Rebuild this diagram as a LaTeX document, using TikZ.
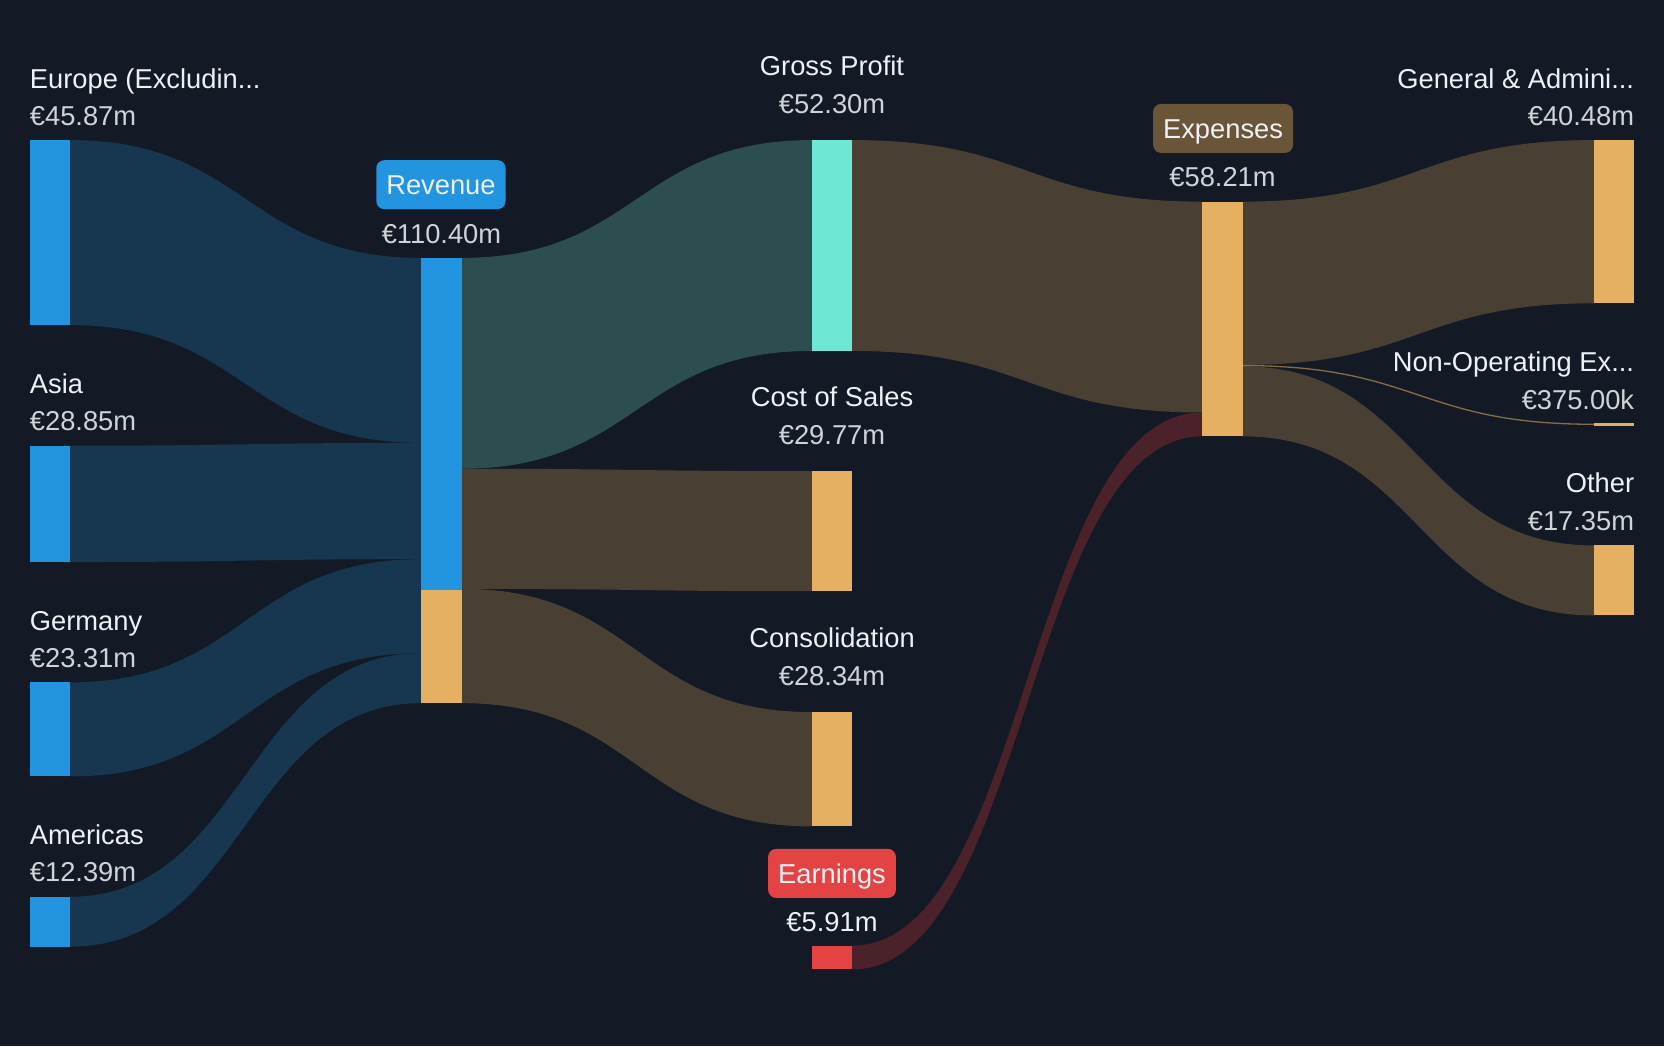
\documentclass[tikz,border=0pt]{standalone}
\usepackage{fontspec}
\setmainfont{Liberation Sans}
\usetikzlibrary{fit,calc}
\definecolor{bg}{HTML}{141A25}
\definecolor{bluebar}{HTML}{2394DF}
\definecolor{blueflow}{HTML}{173750}
\definecolor{tealbar}{HTML}{6EE8D5}
\definecolor{tealflow}{HTML}{2C4E51}
\definecolor{orangebar}{HTML}{E5B062}
\definecolor{brownflow}{HTML}{4A3F33}
\definecolor{redbar}{HTML}{E34343}
\definecolor{redflow}{HTML}{4B2229}
\definecolor{expbox}{HTML}{6B5538}
\definecolor{nametxt}{HTML}{EEF1F6}
\definecolor{valtxt}{HTML}{D0D3D8}
\tikzset{
  barnode/.style={inner sep=0pt, outer sep=0pt},
  txt/.style={inner sep=0pt, font=\fontsize{27.3}{31}\selectfont},
  nm/.style={txt, text=nametxt},
  val/.style={txt, text=valtxt},
  tagbox/.style={txt, text=nametxt, rounded corners=8pt, inner xsep=10pt,
    minimum height=49pt, text height=19.5pt, text depth=0pt},
}
\newcommand\flowband[7]{%
  \coordinate (fA) at (#1.east |- 0,#2);
  \coordinate (fB) at (#1.east |- 0,#3);
  \coordinate (fC) at (#4.west |- 0,#5);
  \coordinate (fD) at (#4.west |- 0,#6);
  \coordinate (fM) at ($(fA)!0.5!(fC)$);
  \fill[#7] (fA) .. controls (fM |- fA) and (fM |- fC) .. (fC) -- (fD)
     .. controls (fM |- fD) and (fM |- fB) .. (fB) -- cycle;
}
\begin{document}
\begin{tikzpicture}[x=1.0612pt,y=-1.0612pt]
\fill[bg] (0,0) rectangle (1568,986);
\useasboundingbox (0,0) rectangle (1568,986);
% bar nodes
\node[barnode, fit={(28,132) (66,306.3)}] (eu) {};
\node[barnode, fit={(28,420) (66,529.6)}] (asia) {};
\node[barnode, fit={(28,643) (66,731.6)}] (ger) {};
\node[barnode, fit={(28,845) (66,892)}] (am) {};
\node[barnode, fit={(397,243) (435,662.6)}] (rev) {};
\node[barnode, fit={(765,132) (803,330.7)}] (gp) {};
\node[barnode, fit={(765,444) (803,557.1)}] (cos) {};
\node[barnode, fit={(765,671) (803,778.7)}] (cons) {};
\node[barnode, fit={(765,891) (803,913.5)}] (earn) {};
\node[barnode, fit={(1133,190) (1171,411.2)}] (exp) {};
\node[barnode, fit={(1502,132) (1540,285.8)}] (ga) {};
\node[barnode, fit={(1502,399) (1540,400.6)}] (nonop) {};
\node[barnode, fit={(1502,514) (1540,579.9)}] (oth) {};
% flows
\flowband{eu}{132}{306.3}{rev}{243}{417.3}{blueflow}
\flowband{asia}{420}{529.6}{rev}{417.3}{526.9}{blueflow}
\flowband{ger}{643}{731.6}{rev}{526.9}{615.5}{blueflow}
\flowband{am}{845}{892}{rev}{615.5}{662.6}{blueflow}
\flowband{rev}{243}{441.7}{gp}{132}{330.7}{tealflow}
\flowband{rev}{441.7}{554.8}{cos}{444}{557.1}{brownflow}
\flowband{rev}{554.8}{662.6}{cons}{671}{778.7}{brownflow}
\flowband{gp}{132}{330.7}{exp}{190}{388.7}{brownflow}
\flowband{earn}{891}{913.5}{exp}{388.7}{411.2}{redflow}
\flowband{exp}{190}{343.8}{ga}{132}{285.8}{brownflow}
\flowband{exp}{345.2}{411.2}{oth}{514}{579.9}{brownflow}
\coordinate (nA) at (exp.east |- 0,344.5);
\coordinate (nC) at (nonop.west |- 0,399.8);
\coordinate (nM) at ($(nA)!0.5!(nC)$);
\draw[brownflow!60!orangebar, line width=1.3pt] (nA) .. controls (nM |- nA) and (nM |- nC) .. (nC);
% bars
\foreach \b in {eu,asia,ger,am,rev}{\fill[bluebar] (\b.north west) rectangle (\b.south east);}
\fill[orangebar] (rev.west |- 0,556) rectangle (rev.south east);
\fill[tealbar] (gp.north west) rectangle (gp.south east);
\foreach \b in {cos,cons,exp,ga,oth}{\fill[orangebar] (\b.north west) rectangle (\b.south east);}
\fill[orangebar] (1502,399) rectangle (1540,401);
\fill[redbar] (earn.north west) rectangle (earn.south east);
% left labels
\node[nm, anchor=base west] (eun) at (28,83) {Europe (Excludin...};
\node[val, anchor=base west] (euv) at (28,118) {€45.87m};
\node[nm, anchor=base west] (asian) at (28,371) {Asia};
\node[val, anchor=base west] (asiav) at (28,406) {€28.85m};
\node[nm, anchor=base west] (gern) at (28,594) {Germany};
\node[val, anchor=base west] (gerv) at (28,629) {€23.31m};
\node[nm, anchor=base west] (amn) at (28,796) {Americas};
\node[val, anchor=base west] (amv) at (28,831) {€12.39m};
% revenue
\node[tagbox, fill=bluebar] (revt) at (415.5,174) {Revenue};
\node[val, anchor=base] (revv) at (416,229) {€110.40m};
% middle labels
\node[nm, anchor=base] (gpn) at (784,71) {Gross Profit};
\node[val, anchor=base] (gpv) at (784,107) {€52.30m};
\node[nm, anchor=base] (cosn) at (784,383) {Cost of Sales};
\node[val, anchor=base] (cosv) at (784,419) {€29.77m};
\node[nm, anchor=base] (consn) at (784,610) {Consolidation};
\node[val, anchor=base] (consv) at (784,646) {€28.34m};
\node[tagbox, fill=redbar] (earnt) at (784,823) {Earnings};
\node[val, anchor=base, text=nametxt] (earnv) at (784,878) {€5.91m};
% expenses
\node[tagbox, fill=expbox] (expt) at (1152.5,121) {Expenses};
\node[val, anchor=base] (expv) at (1152,176) {€58.21m};
% right labels
\node[nm, anchor=base east] (gan) at (1540,83) {General \& Admini...};
\node[val, anchor=base east] (gav) at (1540,118) {€40.48m};
\node[nm, anchor=base east] (nonopn) at (1540,350) {Non-Operating Ex...};
\node[val, anchor=base east] (nonopv) at (1540,386) {€375.00k};
\node[nm, anchor=base east] (othn) at (1540,464) {Other};
\node[val, anchor=base east] (othv) at (1540,500) {€17.35m};
\end{tikzpicture}
\end{document}
